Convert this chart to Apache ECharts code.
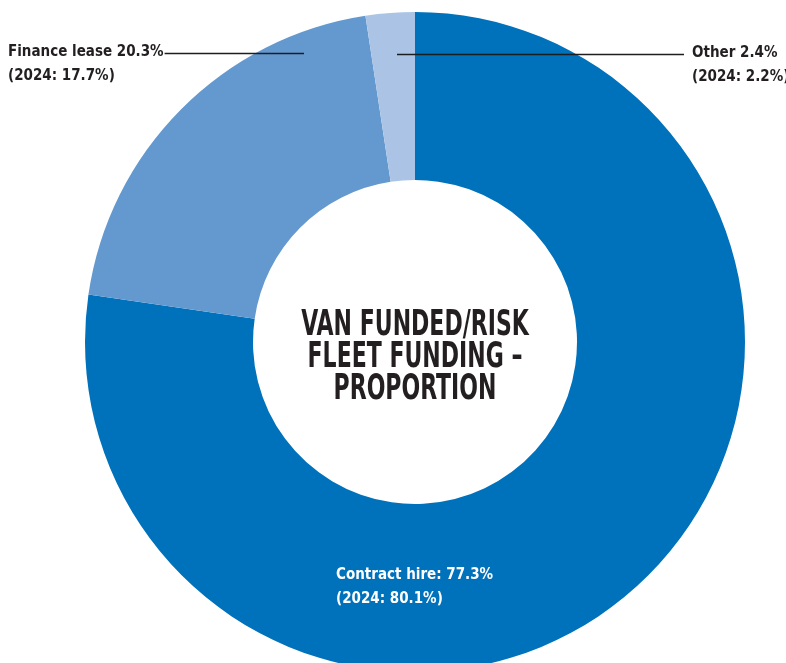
<!DOCTYPE html>
<html>
<head>
<meta charset="utf-8">
<script src="https://cdn.jsdelivr.net/npm/echarts@6/dist/echarts.min.js"></script>
<style>
  html, body { margin: 0; padding: 0; background: #ffffff; }
  #chart { width: 786px; height: 663px; }
</style>
</head>
<body>
<div id="chart"></div>
<script>
// Van funded/risk fleet funding split, current year vs 2024
const categories = ['Contract hire', 'Finance lease', 'Other'];
const shares2025 = [77.3, 20.3, 2.4];
const shares2024 = [80.1, 17.7, 2.2];
const nameSeparators = [': ', ' ', ' '];
const titleLines = ['VAN FUNDED/RISK', 'FLEET FUNDING –', 'PROPORTION'];

const sliceColors = ['#0071bb', '#6499d0', '#abc4e5'];
const FONT = '"DejaVu Sans Condensed", "DejaVu Sans", sans-serif';
const INK = '#231f20';

const CENTER = [415, 342];
const RADIUS = [162, 330];

// Where each callout sits; leader lines start inside the slice and run to the text
const calloutLayout = [
  { x: 336, y: 587, color: '#ffffff', lineFrom: null, lineSide: null },
  { x: 8, y: 64, color: INK, lineFrom: [304, 53.5], lineSide: 'right' },
  { x: 692, y: 65, color: INK, lineFrom: [397, 54.5], lineSide: 'left' }
];

const calloutText = (i) => categories[i] + nameSeparators[i] +
  shares2025[i].toFixed(1) + '%\n(2024: ' + shares2024[i].toFixed(1) + '%)';

const chart = echarts.init(document.getElementById('chart'), null, { renderer: 'canvas' });

chart.setOption({
  animation: false,
  graphic: [{
    type: 'text',
    x: 415,
    y: 358,
    scaleX: 0.68,
    silent: true,
    style: {
      text: titleLines.join('\n'),
      align: 'center',
      verticalAlign: 'middle',
      fontFamily: FONT,
      fontWeight: 'bold',
      fontSize: 36,
      lineHeight: 32,
      fill: INK
    },
    z: 10
  }],
  series: [
    // Coloured ring
    {
      type: 'pie',
      z: 2,
      center: CENTER,
      radius: RADIUS,
      startAngle: 90,
      clockwise: true,
      silent: true,
      label: { show: false },
      labelLine: { show: false },
      data: categories.map((name, i) => ({
        name: name,
        value: shares2025[i],
        itemStyle: { color: sliceColors[i] }
      }))
    },
    // Same ring, transparent, carrying the callouts so their leader lines sit on top
    {
      type: 'pie',
      z: 5,
      center: CENTER,
      radius: RADIUS,
      startAngle: 90,
      clockwise: true,
      silent: true,
      avoidLabelOverlap: false,
      itemStyle: { color: 'rgba(0,0,0,0)' },
      data: categories.map((name, i) => ({
        name: name,
        value: shares2025[i],
        label: { color: calloutLayout[i].color },
        labelLine: { show: calloutLayout[i].lineFrom !== null }
      })),
      label: {
        show: true,
        position: 'outside',
        fontFamily: FONT,
        fontWeight: 'bold',
        fontSize: 15,
        lineHeight: 24,
        formatter: (p) => calloutText(p.dataIndex)
      },
      labelLine: {
        lineStyle: { color: '#1e1e1e', width: 1.3 }
      },
      labelLayout: (params) => {
        const c = calloutLayout[params.dataIndex];
        const out = { x: c.x, y: c.y, align: 'left', verticalAlign: 'middle' };
        if (c.lineFrom) {
          const endX = c.lineSide === 'right' ? c.x + params.labelRect.width + 1 : c.x - 8;
          out.labelLinePoints = [c.lineFrom, [endX, c.lineFrom[1]]];
        }
        return out;
      }
    }
  ]
});
</script>
</body>
</html>
